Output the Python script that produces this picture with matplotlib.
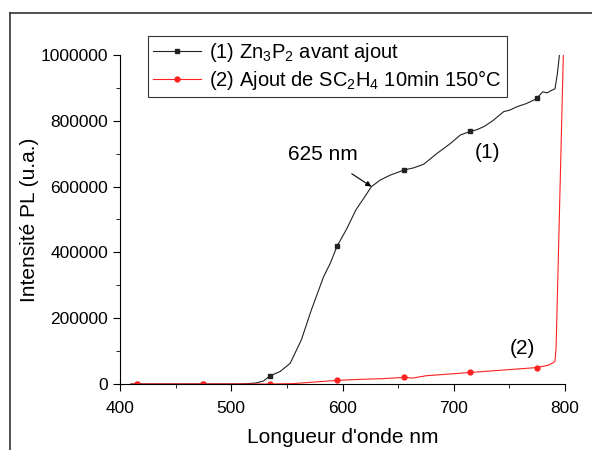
import matplotlib
matplotlib.use("Agg")
import matplotlib.pyplot as plt
from matplotlib.lines import Line2D
from matplotlib.ticker import MultipleLocator, FuncFormatter

plt.rcParams['font.family'] = ['Liberation Sans', 'DejaVu Sans']
plt.rcParams['mathtext.default'] = 'regular'

# (1) Zn3P2 avant ajout
wl1 = [410, 415, 475, 505, 515, 522, 529, 535, 544, 553, 563, 572, 583, 589, 595,
       604, 612, 619, 626, 634, 643, 655, 664, 673, 685, 697, 706, 715, 720, 727,
       735, 745, 750, 757, 765, 772, 775, 780, 784, 787, 791, 793, 795]
pl1 = [0, 0, 0, 0, 1000, 3000, 9000, 25000, 38000, 63000, 134000, 225000, 326000,
       367000, 418000, 473000, 529000, 564000, 600000, 620000, 635000, 650000, 657000,
       668000, 701000, 731000, 757000, 768000, 772000, 782000, 800000, 828000, 832000,
       843000, 852000, 863000, 870000, 888000, 885000, 891000, 897000, 940000, 1000000]

# (2) Ajout de SC2H4 10min 150°C
wl2 = [410, 415, 475, 535, 555, 575, 595, 615, 635, 655, 663, 675, 695, 715, 735,
       755, 775, 785, 790, 791, 792, 798.5]
pl2 = [0, 0, 0, 0, 1000, 6000, 11000, 14000, 16000, 20000, 18000, 25000, 30000,
       35000, 40000, 45000, 50000, 57000, 66000, 70000, 110000, 1000000]

mark_wl = [415, 475, 535, 595, 655, 715, 775]

fig = plt.figure(figsize=(5.92, 4.5), dpi=100)
ax = fig.add_axes([0.2027, 0.1467, 0.7517, 0.7311])

ax.plot(wl1, pl1, color='#222222', lw=0.8, marker='s', ms=3.5,
        markevery=[wl1.index(w) for w in mark_wl],
        label='(1) Zn$_3$P$_2$ avant ajout')
ax.plot(wl2, pl2, color='#ff2020', lw=0.8, marker='o', ms=3.5,
        markevery=[wl2.index(w) for w in mark_wl],
        label='(2) Ajout de SC$_2$H$_4$ 10min 150°C')

ax.set_xlim(400, 800)
ax.set_ylim(0, 1000000)
ax.xaxis.set_major_locator(MultipleLocator(100))
ax.xaxis.set_minor_locator(MultipleLocator(50))
ax.yaxis.set_major_locator(MultipleLocator(200000))
ax.yaxis.set_minor_locator(MultipleLocator(100000))
ax.yaxis.set_major_formatter(FuncFormatter(lambda v, p: '%d' % v))
ax.tick_params(which='major', direction='out', length=5, labelsize=12.5)
ax.tick_params(axis='x', which='major', pad=7)
ax.tick_params(which='minor', direction='out', length=3)
ax.spines['top'].set_visible(False)
ax.spines['right'].set_visible(False)

ax.set_xlabel("Longueur d'onde nm", fontsize=15, labelpad=9)
ax.set_ylabel("Intensité PL (u.a.)", fontsize=15, labelpad=1)

ax.annotate('625 nm', xy=(626, 600000), xytext=(582, 697000),
            fontsize=15, ha='center', va='center',
            arrowprops=dict(arrowstyle='-|>', color='black', lw=0.8,
                            shrinkA=9, shrinkB=0, mutation_scale=8))
ax.text(730, 705000, '(1)', fontsize=15, ha='center', va='center')
ax.text(762, 107000, '(2)', fontsize=15, ha='center', va='center')

leg = ax.legend(loc='upper left', bbox_to_anchor=(0.063, 1.058), borderaxespad=0,
                fontsize=14.5, frameon=True, fancybox=False, edgecolor='black',
                handlelength=2.4, borderpad=0.25, labelspacing=0.2,
                handletextpad=0.4)
leg.get_frame().set_linewidth(0.8)

# outer frame of the original figure
fig.add_artist(Line2D([0.0169, 0.0169], [0.0, 0.971], color='#333333', lw=1.2))
fig.add_artist(Line2D([0.0169, 1.0], [0.971, 0.971], color='#333333', lw=1.2))

fig.savefig('out.png', dpi=100)
